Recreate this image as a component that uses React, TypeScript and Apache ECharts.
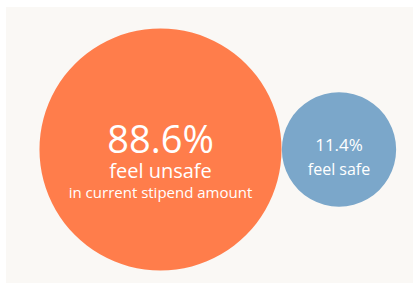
import React, { useEffect, useRef } from "react";
import * as echarts from "echarts";

const categories = ["unsafe", "safe"];
const values = [88.6, 11.4];
const headlines = ["feel unsafe", "feel safe"];
const sublines = ["in current stipend amount", ""];
const colors = ["#FF7D4B", "#7BA7CA"];

const FONT = "'Open Sans', sans-serif";

export default function App() {
  const ref = useRef<HTMLDivElement>(null);
  useEffect(() => {
    if (!ref.current) return;
    const chart = echarts.init(ref.current, undefined, { renderer: "svg" });
    const sizeOf = (v: number) => 46.9 * Math.pow(v, 0.366);
    chart.setOption({
      animation: false,
      backgroundColor: "#ffffff",
      graphic: [
        {
          type: "rect",
          z: -10,
          shape: { x: 6, y: 7, width: 407, height: 276 },
          style: { fill: "#FAF8F5" },
        },
      ],
      grid: {
        left: 71.25,
        width: 357,
        top: 49.5,
        height: 200,
        containLabel: false,
        outerBoundsMode: "none",
      },
      xAxis: { type: "category", data: categories, show: false },
      yAxis: { type: "value", min: -1, max: 1, show: false },
      series: [
        {
          type: "scatter",
          data: values.map((v, i) => ({
            value: [categories[i], 0, v],
            symbolSize: sizeOf(v),
            itemStyle: { color: colors[i], opacity: 1 },
            label: {
              show: true,
              position: "inside",
              color: "#ffffff",
              fontFamily: FONT,
              offset: i === 0 ? [0, 10] : [0, 6],
              formatter: () => {
                const pct = v.toFixed(1) + "%";
                if (i === 0) {
                  return `{a|${pct}}\n{b|${headlines[i]}}\n{c|${sublines[i]}}`;
                }
                return `{d|${pct}}\n{e|${headlines[i]}}`;
              },
              rich: {
                a: { fontSize: 38, lineHeight: 41, color: "#fff", fontFamily: FONT },
                b: { fontSize: 20, lineHeight: 24, color: "#fff", fontFamily: FONT },
                c: { fontSize: 15, lineHeight: 20, color: "#fff", fontFamily: FONT },
                d: { fontSize: 17, lineHeight: 27, color: "#fff", fontFamily: FONT },
                e: { fontSize: 16, lineHeight: 22, color: "#fff", fontFamily: FONT },
              },
            },
          })),
        },
      ],
    });
    return () => chart.dispose();
  }, []);
  return (
    <div
      ref={ref}
      style={{ position: "fixed", left: 0, top: 0, width: 413, height: 284 }}
    />
  );
}
